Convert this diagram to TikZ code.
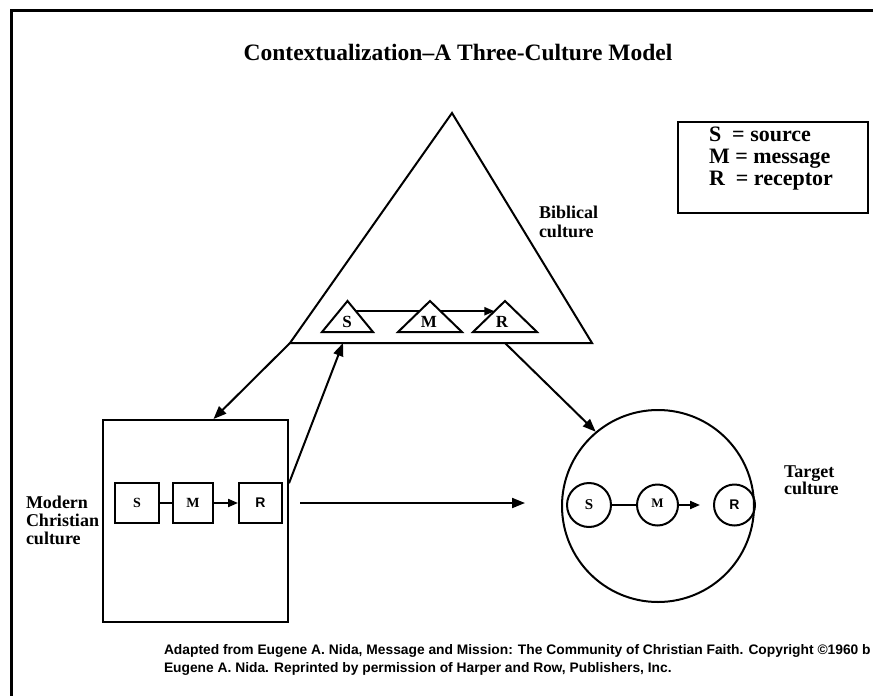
\documentclass[tikz,border=0pt]{standalone}
\usepackage{fontspec}
\setmainfont{Liberation Serif}
\newfontfamily\arialfont{Liberation Sans}
\usetikzlibrary{arrows.meta,positioning,calc}

\begin{document}
\begin{tikzpicture}[
    x=1pt, y=-1pt,
    >={Triangle[length=13pt,width=10pt]},
    line width=2pt,
    font=\bfseries,
    culture/.style={draw, inner sep=0pt},
    minibox/.style={draw, minimum width=40pt, minimum height=40pt, inner sep=0pt, font=\fontsize{14}{16}\selectfont\bfseries},
    minicirc/.style={draw, circle, minimum size=41pt, inner sep=0pt, font=\fontsize{15}{17}\selectfont\bfseries},
    trilabel/.style={inner sep=0pt, font=\fontsize{17}{18}\selectfont\bfseries},
    smalltri/.style={draw, fill=white, line join=miter},
    caption/.style={align=left, inner sep=0pt, anchor=west},
    sansbold/.style={font=\arialfont\fontsize{14}{16}\selectfont\bfseries},
    smallhead/.style={>={Triangle[length=10pt,width=8pt]}}
  ]
  \useasboundingbox (0,0) rectangle (873,696);
  \draw[line width=3pt] (11,696) -- (11,10) -- (873,10);

  \node[font=\fontsize{23.5}{25}\selectfont\bfseries] (title) at (458,52) {Contextualization–A Three-Culture Model};

  % key
  \node[culture, minimum width=190pt, minimum height=91pt] (key) at (773,167.5) {};
  \node[anchor=west, align=left, inner sep=0pt, font=\fontsize{22}{22}\selectfont\bfseries] (keytext) at (708,159)
    {S\ \ = source\\M = message\\R\ \ = receptor};

  % biblical culture
  \draw (452,113) coordinate (apex) -- (592,343) coordinate (baseR) -- (290,343) coordinate (baseL) -- cycle;
  \coordinate (inBase) at (343,343);
  \coordinate (outBase) at (505,343);
  \node[caption, font=\fontsize{18}{19}\selectfont\bfseries] (bibLbl) at (538,222) {Biblical\\culture};

  \draw[smalltri] (322,332) coordinate (sL) -- (347.5,301) coordinate (sT) -- (373,332) coordinate (sR) -- cycle;
  \draw[smalltri] (473,332) coordinate (rL) -- (505,301) coordinate (rT) -- (537,332) coordinate (rR) -- cycle;
  \draw[->, smallhead] ($(sT)!0.33!(sR)$) -- ($(rT)!0.33!(rL)$);
  \draw[smalltri] (398,332) coordinate (mL) -- (430,301) coordinate (mT) -- (462,332) coordinate (mR) -- cycle;
  \node[trilabel] (tS) at (347,322) {S};
  \node[trilabel] (tM) at (429,322) {M};
  \node[trilabel] (tR) at (502,322) {R};

  % modern christian culture
  \node[culture, minimum width=185pt, minimum height=202pt] (modern) at (195.5,521) {};
  \node[minibox, minimum width=44pt] (bS) at (137,503) {S};
  \node[minibox, right=12pt of bS] (bM) {M};
  \node[minibox, sansbold, minimum width=43pt, right=24pt of bM] (bR) {R};
  \draw (bS) -- (bM);
  \draw[->, smallhead] (bM) -- (bR);
  \node[caption, font=\fontsize{18}{18}\selectfont\bfseries] (modLbl) at (25,520) {Modern\\Christian\\culture};

  % target culture
  \node[culture, circle, minimum size=192pt] (target) at (658,506) {};
  \node[minicirc, minimum size=44pt] (cS) at (589,505) {S};
  \node[minicirc, right=24pt of cS, font=\fontsize{13}{15}\selectfont\bfseries] (cM) {\raisebox{3pt}{M}};
  \node[minicirc, sansbold, right=34pt of cM] (cR) {R};
  \draw (cS) -- (cM);
  \draw[->, smallhead, shorten >=13pt] (cM) -- (cR);
  \node[caption, font=\fontsize{18}{17}\selectfont\bfseries] (tgtLbl) at (783,480.5) {Target\\culture};

  % between the cultures
  \draw[->] (baseL) -- (modern.80);
  \draw[->] (modern.22) -- (inBase);
  \draw[->] (outBase) -- (target.130);
  \coordinate (hStart) at (300,503);
  \coordinate (hEnd) at (525,503);
  \draw[->] (hStart) -- (hEnd);

  \node[anchor=west, align=left, inner sep=0pt, font=\arialfont\fontsize{13.8}{18}\selectfont\bfseries] (credit) at (163,660)
    {Adapted from Eugene A. Nida, Message and Mission: The Community of Christian Faith. Copyright ©1960 b\\
     Eugene A. Nida. Reprinted by permission of Harper and Row, Publishers, Inc.};
\end{tikzpicture}
\end{document}
